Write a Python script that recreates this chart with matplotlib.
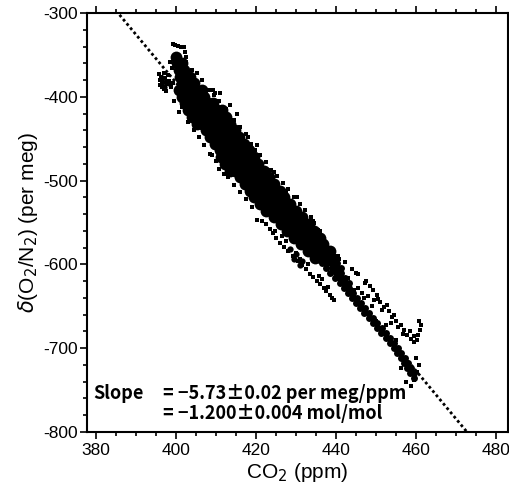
import numpy as np
import matplotlib
matplotlib.use('Agg')
import matplotlib.pyplot as plt
from matplotlib.ticker import MultipleLocator

plt.rcParams['font.family'] = ['Liberation Sans', 'DejaVu Sans']
plt.rcParams['axes.unicode_minus'] = False

# dense part of the cloud, read row by row (y level -> x positions)
band_levels = [-352, -360, -368, -376, -384, -392, -400, -408, -416, -424,
               -432, -440, -448, -456, -464, -472, -480, -488, -496, -504,
               -512, -520, -528, -536, -544, -552, -560, -568, -576, -584,
               -592]
band_xs = [
    [400.0],
    [400.3, 401.5],
    [400.7, 402.0],
    [401.0, 402.5, 403.6],
    [401.5, 403.0, 404.5],
    [400.8, 402.0, 403.5, 405.0, 406.5],
    [401.4, 402.6, 404.1, 405.6, 407.0],
    [402.2, 403.4, 404.9, 406.4, 407.9, 409.2],
    [402.9, 404.2, 405.7, 407.2, 408.7, 410.2, 411.5],
    [404.0, 405.2, 406.7, 408.2, 409.7, 411.2, 412.4],
    [405.3, 406.4, 407.9, 409.4, 410.9, 412.4, 413.6],
    [407.5, 409.0, 410.5, 412.0, 413.5, 414.8],
    [408.6, 410.1, 411.6, 413.1, 414.6, 415.8],
    [409.8, 411.3, 412.8, 414.3, 415.8, 417.0],
    [411.0, 412.5, 414.0, 415.5, 417.0, 418.2],
    [411.2, 412.2, 413.7, 415.2, 416.7, 418.2, 419.4],
    [412.3, 413.4, 414.9, 416.4, 417.9, 419.4, 420.6],
    [413.6, 414.7, 416.2, 417.7, 419.2, 420.7, 421.9],
    [416.0, 417.5, 419.0, 420.5, 422.0, 423.2],
    [417.2, 418.7, 420.2, 421.7, 423.2, 424.6],
    [418.4, 419.9, 421.4, 422.9, 424.4, 425.9],
    [419.6, 421.1, 422.6, 424.1, 425.6, 427.1],
    [421.0, 422.5, 424.0, 425.5, 427.0, 428.4],
    [422.6, 424.1, 425.6, 427.1, 428.6, 429.9],
    [424.4, 425.9, 427.4, 428.9, 430.4, 431.5],
    [426.2, 427.7, 429.2, 430.7, 432.0, 433.2],
    [427.8, 429.3, 430.8, 432.3, 433.6, 434.6],
    [429.4, 430.9, 432.4, 433.9, 435.2, 436.0],
    [431.2, 432.7, 434.2, 435.6, 436.8],
    [433.0, 434.5, 436.0, 437.4, 438.6],
    [434.8, 436.3, 437.7, 439.0],
]

# narrower dense line below -595
line_levels = [-598, -604, -610, -616, -622, -628, -634, -640, -646, -652,
               -658, -664, -670, -676, -682, -688, -694, -700, -706, -712,
               -718, -724, -730, -736]
line_xs = [
    [436.4, 437.8, 439.0, 440.2],
    [437.5, 438.9, 440.0, 441.2],
    [438.6, 440.0, 441.2],
    [439.8, 441.1, 442.2],
    [440.9, 442.2, 443.3],
    [441.9, 443.2],
    [443.0, 444.2],
    [444.0, 445.2],
    [445.0, 446.2],
    [446.1, 447.2],
    [447.1, 448.2],
    [448.2, 449.3],
    [449.2, 450.3],
    [450.3, 451.4],
    [451.3, 452.5],
    [452.4, 453.6],
    [453.5, 454.6],
    [454.4, 455.5],
    [455.3, 456.3],
    [456.2, 457.2],
    [457.0, 458.0],
    [457.8, 458.8],
    [458.6, 459.6],
    [459.4],
]

# small dense patches: left cluster near 397 ppm, knot in the lower branch
lclust_x = [396.6, 397.4, 397.0, 398.2, 428.6, 430.0, 431.4, 429.6, 431.0]
lclust_y = [-377, -382, -388, -384, -582, -588, -596, -594, -601]

# sparse points: stray track at top, left cluster, edges and branches
top_x = [399.3, 399.8, 400.5, 401.3, 402.0, 402.3, 402.4, 402.6, 402.3, 402.5]
top_y = [-337, -338, -339, -340, -341, -346, -352, -358, -364, -370]

left_x = [395.8, 396.3, 396.0, 396.6, 397.2, 397.8, 396.4, 397.0, 398.3,
          398.8, 396.9, 398.0, 399.2, 395.9, 397.5, 399.0, 398.5]
left_y = [-373, -376, -380, -383, -378, -385, -388, -391, -381,
          -388, -372, -374, -384, -386, -393, -366, -358]

right_x = [404.0, 406.5, 408.2, 409.5, 410.8, 412.5, 414.6, 416.0, 417.5,
           418.8, 419.8, 421.0, 422.5, 423.8, 425.2, 426.8, 428.0, 429.6,
           431.0, 432.2, 433.8, 434.5, 435.5, 436.5, 437.2, 438.5, 440.5,
           442.3, 444.0, 445.6, 447.5, 411.0, 415.2, 420.3, 424.6, 430.2,
           436.0, 440.8, 445.0, 405.2, 413.4, 418.0, 427.5, 434.2, 439.0,
           409.2, 409.8]
right_y = [-368, -380, -392, -398, -405, -415, -428, -436, -445,
           -456, -463, -470, -478, -487, -494, -503, -510, -519,
           -528, -535, -543, -551, -559, -566, -574, -581, -590,
           -597, -605, -612, -620, -396, -420, -458, -490, -520,
           -560, -594, -610, -372, -410, -448, -512, -548, -584,
           -392, -395]

upper_x = [448.5, 449.3, 450.2, 451.0, 452.0, 453.2, 454.0, 455.0, 456.3,
           457.0, 457.8, 458.8, 459.5, 460.2, 460.6, 461.0, 461.2, 460.8,
           459.6, 458.6, 450.5, 452.8, 455.4, 448.0, 451.6, 454.6, 456.8,
           449.6, 453.8, 445.5, 446.5, 447.2]
upper_y = [-626, -630, -636, -645, -651, -656, -663, -668, -672,
           -678, -684, -689, -693, -690, -684, -678, -672, -667,
           -686, -680, -641, -648, -675, -638, -655, -660, -683,
           -642, -670, -628, -634, -622]

ledge_x = [399.6, 400.8, 403.0, 404.5, 405.8, 407.0, 408.5, 410.0, 410.8,
           413.0, 414.5, 416.0, 417.5, 419.0, 401.6, 405.0, 409.0, 412.0]
ledge_y = [-405, -418, -430, -440, -448, -458, -468, -477, -486,
           -496, -505, -514, -522, -531, -412, -436, -470, -492]

lower_x = [421.5, 422.5, 423.4, 424.2, 425.0, 426.0, 427.0, 428.0, 429.2,
           430.4, 431.5, 432.6, 433.5, 434.3, 435.2, 436.0, 436.9, 437.6,
           438.4, 439.0, 439.6, 424.8, 427.6, 430.0, 433.0, 435.8, 438.0,
           420.3, 426.4, 431.0, 436.5]
lower_y = [-548, -552, -558, -563, -568, -574, -579, -584, -590,
           -596, -601, -606, -611, -615, -620, -624, -628, -632,
           -636, -640, -643, -560, -572, -586, -600, -614, -627,
           -547, -566, -594, -618]

tail_x = [444.5, 446.3, 448.2, 450.0, 451.8, 453.6, 455.5, 457.0, 457.5,
          458.8, 459.6, 460.3, 460.8, 459.9, 455.0, 452.6, 443.0, 447.0,
          449.0, 456.2]
tail_y = [-630, -646, -658, -668, -680, -694, -704, -716, -740,
          -745, -738, -728, -720, -712, -690, -672, -616, -640,
          -650, -724]

# fitted line
slope = -5.73
intercept = 1908.9
fit_x = [385.0, 474.0]

fig = plt.figure(figsize=(5.10, 4.92), dpi=100)
ax = fig.add_axes([0.1706, 0.122, 0.8254, 0.8516])

bx = [x for xs in band_xs for x in xs]
by = [y for y, xs in zip(band_levels, band_xs) for _ in xs]
ax.plot(bx, by, 'o', color='black', ms=8.5, mew=0)

lx = [x for xs in line_xs for x in xs]
ly = [y for y, xs in zip(line_levels, line_xs) for _ in xs]
ax.plot(lx, ly, 'o', color='black', ms=5, mew=0)
ax.plot(lclust_x, lclust_y, 'o', color='black', ms=4.5, mew=0)

for xs, ys in [(top_x, top_y), (left_x, left_y), (right_x, right_y),
               (upper_x, upper_y), (ledge_x, ledge_y), (lower_x, lower_y),
               (tail_x, tail_y)]:
    ax.plot(xs, ys, 's', color='black', ms=2.4, mew=0)

fx = np.array(fit_x)
ax.plot(fx, slope * fx + intercept, color='black', lw=2.0,
        linestyle=(0, (1, 1)))

ax.set_xlim(377.75, 483)
ax.set_ylim(-800, -300)
ax.xaxis.set_major_locator(MultipleLocator(20))
ax.xaxis.set_minor_locator(MultipleLocator(5))
ax.yaxis.set_major_locator(MultipleLocator(100))
ax.yaxis.set_minor_locator(MultipleLocator(20))
ax.tick_params(which='both', direction='out', top=True, right=True,
               width=1.2, labelsize=12.5)
ax.tick_params(which='major', length=5)
ax.tick_params(which='minor', length=3)
ax.tick_params(axis='y', pad=1.5)
ax.tick_params(axis='x', pad=3)
for s in ax.spines.values():
    s.set_linewidth(1.5)

ax.set_xlabel('CO$_2$ (ppm)', fontsize=15, labelpad=2)
ax.set_ylabel(r'$\delta$(O$_2$/N$_2$) (per meg)', fontsize=15, labelpad=2)

note_font = ['Noto Sans CJK JP', 'DejaVu Sans']
ax.text(0.014, 0.093, 'Slope', transform=ax.transAxes, fontsize=13,
        fontweight='bold', va='center', ha='left', family=note_font)
ax.text(0.18, 0.093, '= \u22125.73\u00b10.02 per meg/ppm', transform=ax.transAxes,
        fontsize=13, fontweight='bold', va='center', ha='left', family=note_font)
ax.text(0.18, 0.045, '= \u22121.200\u00b10.004 mol/mol', transform=ax.transAxes,
        fontsize=13, fontweight='bold', va='center', ha='left', family=note_font)

fig.savefig('out.png', dpi=100)
